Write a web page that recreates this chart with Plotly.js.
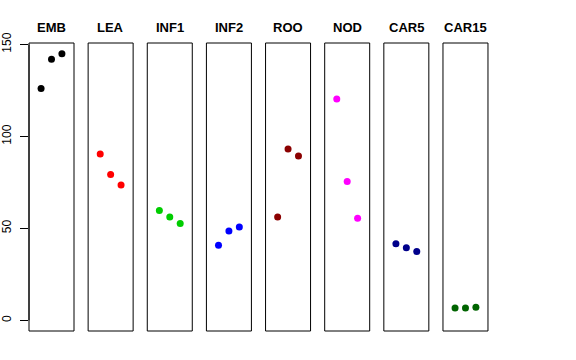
<!DOCTYPE html>
<html>
<head>
<meta charset="utf-8">
<script src="https://cdn.plot.ly/plotly-3.0.1.min.js"></script>
<style>html,body{margin:0;padding:0;background:#fff;}#chart{width:576px;height:360px;}</style>
</head>
<body>
<div id="chart"></div>
<script>
// Data
const categories = ["EMB", "LEA", "INF1", "INF2", "ROO", "NOD", "CAR5", "CAR15"];
const xPositions = [1, 2, 3];
const EMB   = [126, 142, 145];
const LEA   = [90.5, 79.3, 73.6];
const INF1  = [59.7, 56.2, 52.6];
const INF2  = [40.8, 48.6, 50.8];
const ROO   = [56.2, 93.2, 89.4];
const NOD   = [120.4, 75.5, 55.5];
const CAR5  = [41.7, 39.5, 37.4];
const CAR15 = [6.7, 6.7, 7.1];
const yTickValues = [0, 50, 100, 150];
const yTickLabels = ["0", "50", "100", "150"];

const seriesValues = [EMB, LEA, INF1, INF2, ROO, NOD, CAR5, CAR15];
const colors = ["#000000", "#FF0000", "#00CD00", "#0000FF", "#8B0000", "#FF00FF", "#00008B", "#006400"];

const W = 576, H = 360;
const plotLeft = 29, plotRight = 488, plotTop = 43, plotBottom = 331;
const plotW = plotRight - plotLeft;
const panelW = 45, step = 59.14;
const yRange = [-5.8, 150.8];
const xRange = [-0.16, 4.16];

const traces = [];
const layout = {
  width: W, height: H,
  margin: {l: plotLeft, r: W - plotRight, t: plotTop, b: H - plotBottom, pad: 0},
  paper_bgcolor: "#ffffff", plot_bgcolor: "#ffffff",
  showlegend: false,
  font: {family: "Liberation Sans, Arial, sans-serif", size: 12, color: "#000"},
  annotations: [],
  shapes: []
};

categories.forEach((cat, i) => {
  const sfx = i === 0 ? "" : String(i + 1);
  const left = (i * step) / plotW;
  const right = (i * step + panelW) / plotW;
  traces.push({
    type: "scatter", mode: "markers",
    x: xPositions, y: seriesValues[i],
    xaxis: "x" + sfx, yaxis: "y" + sfx,
    marker: {color: colors[i], size: 7},
    hoverinfo: "skip"
  });
  layout["xaxis" + sfx] = {
    domain: [left, Math.min(right, 1)],
    range: xRange, anchor: "y" + sfx,
    showgrid: false, zeroline: false, showticklabels: false, ticks: "",
    showline: false, fixedrange: true
  };
  const yax = {
    domain: [0, 1], range: yRange, anchor: "x" + sfx,
    showgrid: false, zeroline: false, showline: false, fixedrange: true
  };
  if (i === 0) {
    Object.assign(yax, {
      tickmode: "array", tickvals: yTickValues, ticktext: yTickLabels,
      ticks: "outside", ticklen: 8, tickwidth: 1, tickcolor: "#000",
      tickangle: -90, ticklabelstandoff: 4, tickfont: {size: 12, color: "#000"}
    });
  } else {
    Object.assign(yax, {showticklabels: false, ticks: ""});
  }
  layout["yaxis" + sfx] = yax;
  // panel box
  layout.shapes.push({
    type: "rect", xref: "x" + sfx + " domain", yref: "y" + sfx + " domain",
    x0: 0, x1: 1, y0: 0, y1: 1, line: {color: "#000", width: 1}, fillcolor: "rgba(0,0,0,0)"
  });
  // title
  layout.annotations.push({
    text: "<b>" + cat + "</b>", xref: "x" + sfx + " domain", yref: "y" + sfx + " domain",
    x: 0.5, y: 1, xanchor: "center", yanchor: "bottom", yshift: 6, showarrow: false,
    font: {size: 13, color: "#000"}
  });
});

// y axis line from 0 to 150 (R-style axis)
layout.shapes.push({
  type: "line", xref: "x domain", yref: "y", x0: 0, x1: 0,
  y0: yTickValues[0], y1: yTickValues[yTickValues.length - 1],
  line: {color: "#000", width: 1}
});

Plotly.newPlot("chart", traces, layout, {staticPlot: true, displayModeBar: false});
</script>
</body>
</html>
